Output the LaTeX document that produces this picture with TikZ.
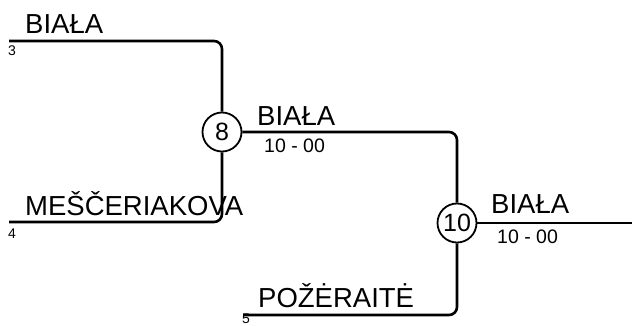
\documentclass[tikz,border=0pt]{standalone}
\usepackage{fontspec}
\setmainfont{Liberation Sans}
\usetikzlibrary{positioning}

\begin{document}
\begin{tikzpicture}[x=1pt, y=-1pt,
            line/.style={line width=2.6pt, rounded corners=8pt},
            match/.style={circle, draw, line width=1.8pt, fill=white, minimum size=39pt, inner sep=0pt, font=\fontsize{25}{25}\selectfont},
            player/.style={anchor=base west, inner sep=0pt, font=\fontsize{27.5}{27.5}\selectfont},
            score/.style={anchor=base west, inner sep=0pt, font=\fontsize{19.5}{19.5}\selectfont},
            seed/.style={anchor=base west, inner sep=0pt, font=\fontsize{14}{14}\selectfont}
        ]
            \useasboundingbox (0,0) rectangle (632,325);

            \coordinate (p3) at (9,41);
            \coordinate (p4) at (9,222);
            \coordinate (p5) at (243,315);
            \coordinate (out) at (632,223);
            \node[match] (m8) at (222,132) {8};
            \node[match] (m10) at (457,223) {10};

            \draw[line] (p3) -| (m8);
            \draw[line] (p4) -| (m8);
            \draw[line] (m8) -| (m10);
            \draw[line] (p5) -| (m10);
            \draw[line] (m10) -- (out);

            \node[player] (n3) at (25,33) {BIAŁA};
            \node[seed] (s3) at (8,55) {3};
            \node[player] (n4) at (25,215) {MEŠČERIAKOVA};
            \node[seed] (s4) at (8,238) {4};
            \node[player] (n5) at (258,307) {POŽĖRAITĖ};
            \node[seed] (s5) at (242,323) {5};
            \node[player] (w8) at (257,125) {BIAŁA};
            \node[score] (r8) at (264,152) {10 - 00};
            \node[player] (w10) at (491,213) {BIAŁA};
            \node[score] (r10) at (497,243) {10 - 00};
        \end{tikzpicture}
\end{document}
